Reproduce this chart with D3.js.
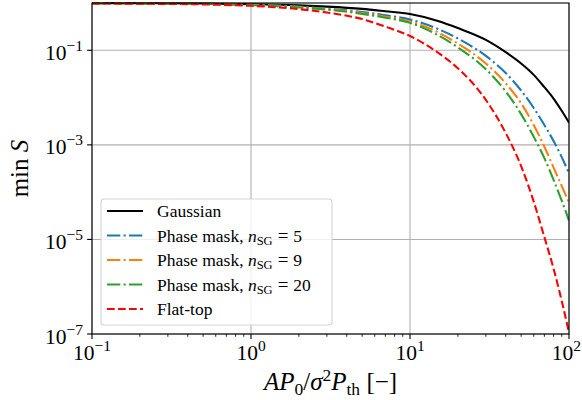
<!DOCTYPE html>
<html>
<head>
<meta charset="utf-8">
<script src="https://cdn.jsdelivr.net/npm/d3@7"></script>
<style>
  body { margin: 0; background: #fff; }
  svg { display: block; }
</style>
</head>
<body>
<svg id="chart" width="582" height="400"></svg>
<script>
// Normalised pump power A·P0 / (σ² P_th)
const xValues = [0.1, 0.2, 0.5, 1, 2, 3, 5, 7, 10, 15, 20, 30, 40, 50, 60, 70, 80, 90, 100];

// Minimum of S for each beam profile
const gaussian = [0.995, 0.991, 0.973, 0.946, 0.891, 0.839, 0.750, 0.668, 0.585, 0.417, 0.295,
  0.166, 0.0912, 0.0525, 0.0302, 0.0166, 0.00955, 0.00525, 0.00295];
const phaseMask5 = [0.993, 0.986, 0.966, 0.923, 0.841, 0.759, 0.646, 0.550, 0.447, 0.282, 0.178,
  0.0759, 0.0331, 0.0141, 0.00603, 0.00263, 0.00120, 0.000550, 0.000251];
const phaseMask9 = [0.993, 0.984, 0.959, 0.912, 0.822, 0.741, 0.617, 0.513, 0.407, 0.240, 0.138,
  0.0525, 0.0200, 0.00759, 0.00263, 0.000912, 0.000331, 0.000135, 0.0000603];
const phaseMask20 = [0.991, 0.982, 0.955, 0.902, 0.804, 0.724, 0.589, 0.490, 0.380, 0.209, 0.115,
  0.0398, 0.0135, 0.00447, 0.00148, 0.000525, 0.000182, 0.0000661, 0.0000251];
const flatTop = [0.977, 0.966, 0.933, 0.871, 0.741, 0.631, 0.457, 0.316, 0.200, 0.0891, 0.0417,
  0.00891, 0.00178, 0.000355, 0.0000631, 0.0000112, 0.0000024, 5.0e-7, 1.07e-7];

const seriesNames = ["Gaussian", "Phase mask", "Phase mask", "Phase mask", "Flat-top"];
const seriesOrders = [null, 5, 9, 20, null];

// Tick exponents (powers of ten)
const xTickExponents = [-1, 0, 1, 2];
const yTickExponents = [-7, -5, -3, -1];

const W = 582, H = 400;
const margin = { left: 92, right: 13, top: 3, bottom: 66 };
const plotL = margin.left, plotR = W - margin.right;
const plotT = margin.top, plotB = H - margin.bottom;

const FONT = "'Liberation Serif', 'DejaVu Serif', serif";
const svg = d3.select("#chart");

const x = d3.scaleLog().domain([0.1, 100]).range([plotL, plotR]);
const y = d3.scaleLog().domain([1e-7, 1]).range([plotB, plotT]);

const lw = 2.08;
const styles = [
  { color: "#000000", dash: null },
  { color: "#1f77b4", dash: [13.3, 3.3, 2.1, 3.3] },
  { color: "#ff7f0e", dash: [13.3, 3.3, 2.1, 3.3] },
  { color: "#2ca02c", dash: [13.3, 3.3, 2.1, 3.3] },
  { color: "#ff0000", dash: [7.7, 3.3] }
];
const seriesValues = [gaussian, phaseMask5, phaseMask9, phaseMask20, flatTop];

// clip region for the curves
svg.append("defs").append("clipPath").attr("id", "plotClip")
  .append("rect").attr("x", plotL).attr("y", plotT - 1)
  .attr("width", plotR - plotL).attr("height", plotB - plotT + 1);

// grid lines at major ticks
const grid = svg.append("g");
xTickExponents.forEach(e => {
  const px = x(Math.pow(10, e));
  grid.append("line").attr("x1", px).attr("x2", px).attr("y1", plotT).attr("y2", plotB)
    .attr("stroke", "#b0b0b0").attr("stroke-width", 1.1);
});
yTickExponents.forEach(e => {
  const py = y(Math.pow(10, e));
  grid.append("line").attr("x1", plotL).attr("x2", plotR).attr("y1", py).attr("y2", py)
    .attr("stroke", "#b0b0b0").attr("stroke-width", 1.1);
});

// curves
const line = d3.line()
  .x(d => x(d[0]))
  .y(d => y(d[1]))
  .curve(d3.curveMonotoneX);

const curves = svg.append("g").attr("clip-path", "url(#plotClip)");
seriesValues.forEach((vals, i) => {
  const pts = xValues.map((xv, j) => [xv, vals[j]]);
  curves.append("path")
    .datum(pts)
    .attr("d", line)
    .attr("fill", "none")
    .attr("stroke", styles[i].color)
    .attr("stroke-width", lw)
    .attr("stroke-dasharray", styles[i].dash ? styles[i].dash.join(",") : null);
});

// axes with power-of-ten labels
function powLabel(sel, e) {
  sel.append("tspan").text("10");
  sel.append("tspan").attr("dy", -9).attr("font-size", 15.5)
    .text(e < 0 ? "\u2212" + (-e) : String(e));
}

const axes = svg.append("g");
// minor x ticks
const minorX = [];
for (let e = -1; e < 2; e++) for (let k = 2; k <= 9; k++) minorX.push(k * Math.pow(10, e));
minorX.forEach(v => {
  axes.append("line").attr("x1", x(v)).attr("x2", x(v)).attr("y1", plotB).attr("y2", plotB + 2.8)
    .attr("stroke", "#000").attr("stroke-width", 0.85);
});
xTickExponents.forEach(e => {
  const px = x(Math.pow(10, e));
  axes.append("line").attr("x1", px).attr("x2", px).attr("y1", plotB).attr("y2", plotB + 4.9)
    .attr("stroke", "#000").attr("stroke-width", 1.1);
  const t = axes.append("text").attr("x", px).attr("y", plotB + 26)
    .attr("text-anchor", "middle").attr("font-family", FONT).attr("font-size", 21.5);
  powLabel(t, e);
  // keep the last label inside the canvas
  const bb = t.node().getBBox();
  if (bb.x + bb.width > W - 1) t.attr("x", px - (bb.x + bb.width - (W - 1)));
});
yTickExponents.forEach(e => {
  const py = y(Math.pow(10, e));
  axes.append("line").attr("x1", plotL - 4.9).attr("x2", plotL).attr("y1", py).attr("y2", py)
    .attr("stroke", "#000").attr("stroke-width", 1.1);
  const t = axes.append("text").attr("x", plotL - 9).attr("y", py + 9.5)
    .attr("text-anchor", "end").attr("font-family", FONT).attr("font-size", 21.5);
  powLabel(t, e);
});

// frame
axes.append("rect").attr("x", plotL).attr("y", plotT)
  .attr("width", plotR - plotL).attr("height", plotB - plotT)
  .attr("fill", "none").attr("stroke", "#000").attr("stroke-width", 1.1);

// axis titles
const xl = svg.append("text").attr("x", (plotL + plotR) / 2).attr("y", 390)
  .attr("text-anchor", "middle").attr("font-family", FONT).attr("font-size", 25);
xl.append("tspan").attr("font-style", "italic").text("AP");
xl.append("tspan").attr("dy", 5).attr("font-size", 17.5).text("0");
xl.append("tspan").attr("dy", -5).text("/");
xl.append("tspan").attr("font-style", "italic").text("σ");
xl.append("tspan").attr("dy", -9).attr("font-size", 17.5).text("2");
xl.append("tspan").attr("dy", 9).attr("font-style", "italic").text("P");
xl.append("tspan").attr("dy", 5).attr("font-size", 17.5).text("th");
xl.append("tspan").attr("dy", -5).text(" [\u2212]");

const yl = svg.append("text")
  .attr("transform", `translate(28,${(plotT + plotB) / 2}) rotate(-90)`)
  .attr("text-anchor", "middle").attr("font-family", FONT).attr("font-size", 25);
yl.append("tspan").text("min ");
yl.append("tspan").attr("font-style", "italic").text("S");

// legend
const legend = svg.append("g");
const lgX = 101, lgY = 199, lgW = 231, lgH = 126;
legend.append("rect").attr("x", lgX).attr("y", lgY).attr("width", lgW).attr("height", lgH)
  .attr("rx", 3).attr("fill", "#fff").attr("fill-opacity", 0.8)
  .attr("stroke", "#d5d5d5").attr("stroke-width", 1.1);
seriesNames.forEach((name, i) => {
  const cy = 211 + i * 24.5;
  legend.append("line").attr("x1", 107).attr("x2", 143).attr("y1", cy).attr("y2", cy)
    .attr("stroke", styles[i].color).attr("stroke-width", lw)
    .attr("stroke-dasharray", styles[i].dash ? styles[i].dash.join(",") : null);
  const t = legend.append("text").attr("x", 157).attr("y", cy + 6)
    .attr("font-family", FONT).attr("font-size", 17.5);
  if (seriesOrders[i] === null) {
    t.text(name);
  } else {
    t.append("tspan").text(name + ", ");
    t.append("tspan").attr("font-style", "italic").text("n");
    t.append("tspan").attr("dy", 3).attr("font-size", 12.5).text("SG");
    t.append("tspan").attr("dy", -3).attr("dx", 5).attr("font-size", 19).text("=");
    t.append("tspan").attr("dx", 5).text(String(seriesOrders[i]));
  }
});
</script>
</body>
</html>
